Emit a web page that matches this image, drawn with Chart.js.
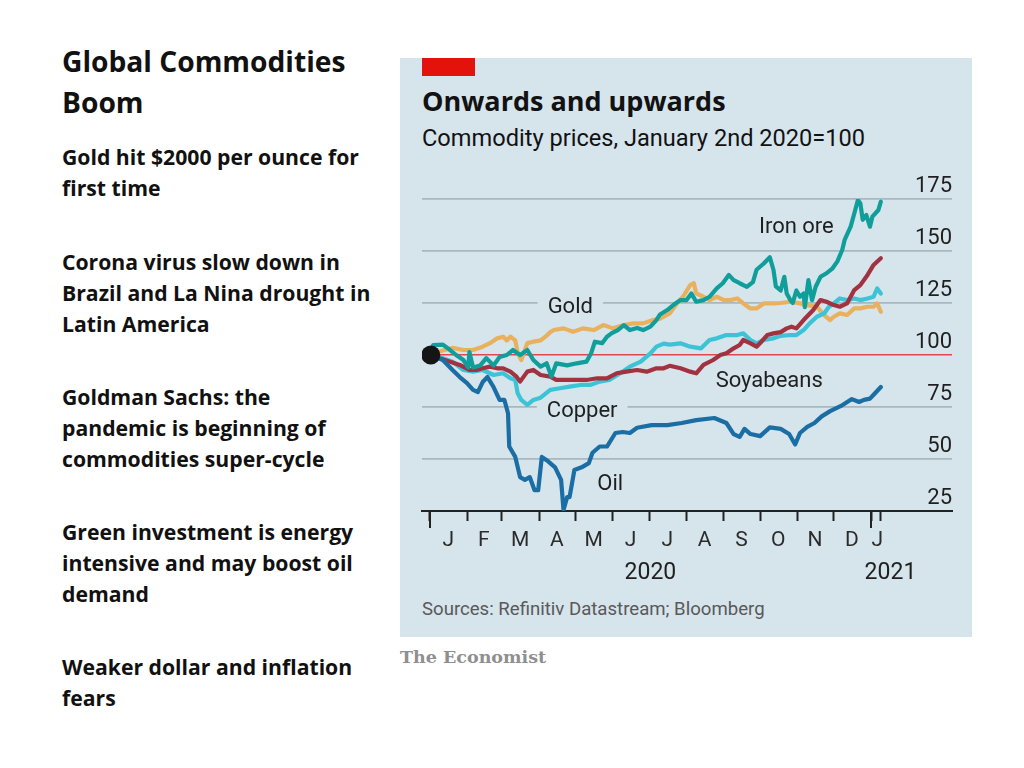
<!DOCTYPE html>
<html>
<head>
<meta charset="utf-8">
<script src="https://cdn.jsdelivr.net/npm/chart.js@4"></script>
<style>
  html, body { margin: 0; padding: 0; background: #ffffff; }
  body { width: 1024px; height: 768px; position: relative; overflow: hidden; }
  .side { position: absolute; left: 62px; font-family: "Open Sans", Lato, sans-serif; font-weight: 700; color: #111; white-space: nowrap; }
  .side h1 { margin: 0; font-size: 28.2px; line-height: 41px; font-weight: 700; }
  .side p { margin: 0; font-size: 21.2px; line-height: 31px; }
  #panel { position: absolute; left: 400px; top: 58px; width: 572px; height: 579px; background: #d6e4ec; }
  #redbar { position: absolute; left: 22px; top: 0; width: 53px; height: 18px; background: #e3120b; }
  .ptitle { position: absolute; left: 22px; margin: 0; font-family: "Open Sans", Roboto, sans-serif; font-weight: 700; font-size: 27px; line-height: 34px; color: #121212; white-space: nowrap; }
  .psub { position: absolute; left: 22px; margin: 0; font-family: Roboto, sans-serif; font-weight: 400; font-size: 23.6px; line-height: 28px; color: #121212; white-space: nowrap; }
  .psrc { position: absolute; left: 22px; top: 539px; font-family: Roboto, sans-serif; font-size: 18.6px; line-height: 24px; color: #595959; white-space: nowrap; }
  #chartbox { position: absolute; left: 400px; top: 160px; width: 572px; height: 440px; }
  #econ { position: absolute; left: 400px; top: 645px; font-family: "DejaVu Serif", "Liberation Serif", serif; font-weight: 700; font-size: 17.5px; line-height: 24px; color: #8f8f8f; white-space: nowrap; }
</style>
</head>
<body>
<div class="side" style="top:41px"><h1>Global Commodities<br>Boom</h1></div>
<div class="side" style="top:141px"><p>Gold hit $2000 per ounce for<br>first time</p></div>
<div class="side" style="top:246px"><p>Corona virus slow down in<br>Brazil and La Nina drought in<br>Latin America</p></div>
<div class="side" style="top:381px"><p>Goldman Sachs: the<br>pandemic is beginning of<br>commodities super-cycle</p></div>
<div class="side" style="top:516px"><p>Green investment is energy<br>intensive and may boost oil<br>demand</p></div>
<div class="side" style="top:651px"><p>Weaker dollar and inflation<br>fears</p></div>

<div id="panel">
  <div id="redbar"></div>
  <div class="ptitle" style="top:26px">Onwards and upwards</div>
  <div class="psub" style="top:66px">Commodity prices, January 2nd 2020=100</div>
  <div class="psrc">Sources: Refinitiv Datastream; Bloomberg</div>
</div>
<div id="chartbox"><canvas id="c" width="572" height="440"></canvas></div>
<div id="econ">The Economist</div>

<script>
// ---- Data (x = days since 1 Jan 2020) ----
const oilDays = [1,11,19,25,31,36,40,44,48,53,58,62,65,66,71,75,79,83,87,90,93,98,104,109,111,114,116,120,126,132,135,141,147,154,160,166,172,184,197,209,221,236,243,246,252,257,261,266,274,282,291,298,303,307,313,319,325,332,341,350,356,360,365,369,374];
const oilVals = [100,97.6,92.8,89.4,86.5,83.2,82.2,87,89.4,84.6,78.4,78.4,72,56,51,41.3,40,41.3,35,35,51,49,46,40,25.5,31.7,31.7,44.7,46,48,53,56,56,62.5,63,62.5,65,66.3,66.3,67.3,68.7,69.7,68,67.3,62,60.6,64.5,62,61,65.2,64.5,62,57,62.5,65.4,67.3,70.5,73,75.5,78.8,77.4,78.4,79,81.5,84.6];

const ironDays = [1,3,11,17,22,28,32,33,36,42,47,53,58,64,69,75,81,86,92,97,101,105,114,122,130,134,137,143,147,151,156,161,166,172,177,183,188,191,197,202,208,213,217,221,227,232,238,243,248,252,257,263,268,271,277,282,285,287,291,294,296,299,301,304,307,310,311,314,317,320,324,329,334,338,342,344,349,352,355,357,359,362,365,367,372,374];
const ironVals = [100,104.8,105,102.4,100,97.6,94,101.4,94,95,98.5,95,99,100,102.4,100,102.4,97.6,94.4,96,89.6,96,95,96,96.8,101,106.4,105.7,108.8,110.5,112,114.4,112,113,112,113.6,116.8,119.5,121.6,124,126.4,126.4,129.6,125.6,126.4,128,132,134.5,138.5,136,134.5,132.8,135,141,144,147,141,133,131,137.6,129.6,126.4,125,131,128,129.6,123,136,126.4,132.8,137.6,139.3,141.7,145,150.5,155.3,161.7,168,174.5,173,165,167.3,161.7,166.5,169.7,173.7];

const goldDays = [1,10,19,28,36,44,50,56,61,64,67,71,73,76,81,86,92,96,100,103,111,119,127,136,144,152,161,169,177,185,191,199,205,210,216,219,221,227,232,238,244,249,255,260,266,271,277,285,291,299,307,313,321,327,332,335,340,346,352,357,363,368,371,374];
const goldVals = [100,102,103.4,102.4,102.4,104,105.7,108,108.8,107,108.8,107,101,97.6,105.7,106.4,107,108.8,111,112,112.8,111.2,112.8,112,114.4,112.8,114.4,115.2,115.2,116.8,117.5,120,124.8,128,133.6,134.5,129.6,128,126.4,128,126.4,126.4,127.2,124.8,122.4,122.4,124.8,124.8,125,125.6,124.8,124,123.2,119.2,116.8,118.4,120,119.2,122.4,122.4,123.2,123.2,124.8,120.8];

const copperDays = [1,8,19,28,36,44,53,61,67,71,73,76,81,86,92,100,108,116,125,133,141,149,158,166,175,183,188,194,199,208,216,225,232,238,246,255,260,266,271,277,285,291,299,304,310,315,321,327,331,335,340,346,352,357,363,368,371,374];
const copperVals = [100,99,96.8,92.8,92,92.8,90.4,91.2,88.8,88,81.6,78.4,76,78.4,79.5,83.2,84,84.8,85.6,85.6,87.2,88,91.2,94.4,96.8,100.8,104,105.5,105,105.6,104,103.2,107.2,108,109.6,109.6,110.4,107.2,105.6,107.2,108,109.2,109.6,109.6,112,115.2,118.4,120,123.2,124.8,127.2,126.4,127.2,126.4,127.2,128,132,129.6];

const soyDays = [1,8,17,25,33,39,44,50,56,61,67,72,75,81,86,92,100,105,114,122,130,139,147,155,163,172,180,188,194,199,208,216,221,227,235,241,246,252,257,260,266,271,275,280,285,291,296,300,304,310,318,324,329,335,340,346,352,357,363,368,374];
const soyVals = [100,98.4,96.8,95.2,92.8,92.8,93.6,94.4,93.6,93.6,92,89.6,87.2,92,92.8,90.4,89.6,88,88,88,88,88.8,88.8,91.2,92,92.8,92,93.6,93.6,94.8,93.6,92,91.2,95.2,97.6,100,100.8,103.2,104.8,107.2,105.6,104,106.4,109.6,110.4,111,112.8,113.6,112.8,116.8,121.6,126.4,125.6,124,123.2,124.8,131.2,133.6,138.5,143.3,146.5];

const startDay = [1];
const startVal = [100];

const yTicks = [25, 50, 75, 100, 125, 150, 175];
const monthStarts = [0,31,60,91,121,152,182,213,244,274,305,335,366,374];
const yearStarts = [0, 366];
const monthMids = [15.5,45,75,105.5,136,166.5,197,228,258.5,289,319.5,350,371];
const monthLabels = ['J','F','M','A','M','J','J','A','S','O','N','D','J'];
const yearPos = [183, 382];
const yearLabels = ['2020', '2021'];

// series labels: [name, day, value, knockout]
const seriesLabels = [
  ['Iron ore', 304, 161.5, false],
  ['Gold', 116.6, 122.8, true],
  ['Soyabeans', 281.5, 87.2, false],
  ['Copper', 126.5, 72.8, true],
  ['Oil', 149.7, 37.8, false]
];

const PANEL_BG = '#d6e4ec';
const GRID = '#a9b7c0';

function pts(d, v) { return d.map((x, i) => ({ x: x, y: v[i] })); }
function lineDs(label, d, v, color) {
  return { label, data: pts(d, v), borderColor: color, borderWidth: 4.2, pointRadius: 0,
           tension: 0, fill: false, borderJoinStyle: 'round', borderCapStyle: 'round' };
}

const annotPlugin = {
  id: 'annot',
  beforeDatasetsDraw(chart) {
    const ctx = chart.ctx, xs = chart.scales.x, ys = chart.scales.y;
    ctx.save();
    ctx.font = '400 22px Roboto, sans-serif';
    ctx.textAlign = 'center';
    ctx.textBaseline = 'middle';
    seriesLabels.forEach(([t, d, v, ko]) => {
      const px = xs.getPixelForValue(d), py = ys.getPixelForValue(v);
      const w = ctx.measureText(t).width;
      if (ko) { ctx.fillStyle = PANEL_BG; ctx.fillRect(px - w / 2 - 10, py - 14, w + 20, 28); }
      ctx.fillStyle = '#1f1f1f';
      ctx.fillText(t, px, py);
    });
    ctx.restore();
  },
  afterDraw(chart) {
    const ctx = chart.ctx, xs = chart.scales.x, b = chart.chartArea.bottom;
    ctx.save();
    ctx.strokeStyle = '#222';
    ctx.lineWidth = 2;
    yearStarts.forEach(d => {
      const px = Math.round(xs.getPixelForValue(d));
      ctx.beginPath(); ctx.moveTo(px, b); ctx.lineTo(px, b + 17); ctx.stroke();
    });
    ctx.restore();
  }
};

new Chart(document.getElementById('c'), {
  type: 'line',
  data: {
    datasets: [
      { label: 'start', data: pts(startDay, startVal), showLine: false, pointRadius: 9.5,
        pointBackgroundColor: '#151515', pointBorderWidth: 0, borderColor: '#151515' },
      lineDs('Oil', oilDays, oilVals, '#1a6ea3'),
      lineDs('Iron ore', ironDays, ironVals, '#109e9a'),
      lineDs('Soyabeans', soyDays, soyVals, '#a2323f'),
      lineDs('Copper', copperDays, copperVals, '#3cc4d6'),
      lineDs('Gold', goldDays, goldVals, '#e9b15e')
    ]
  },
  options: {
    responsive: false,
    animation: false,
    events: [],
    layout: { padding: { left: 22, right: 20, top: 39, bottom: 12 } },
    plugins: { legend: { display: false }, tooltip: { enabled: false } },
    scales: {
      x: {
        type: 'linear', position: 'bottom', min: -6.3, max: 433, bounds: 'data', weight: 0,
        afterBuildTicks: s => { s.ticks = monthStarts.map(v => ({ value: v })); },
        afterFit: s => { s.height = 10; },
        ticks: { display: false },
        grid: { drawOnChartArea: false, drawTicks: true, tickLength: 10, tickColor: '#222', tickWidth: 2 },
        border: { display: true, color: '#222', width: 2 }
      },
      xm: {
        type: 'linear', position: 'bottom', min: -6.3, max: 433, bounds: 'data', weight: 1,
        afterBuildTicks: s => { s.ticks = monthMids.map(v => ({ value: v })); },
        afterFit: s => { s.height = 33; },
        ticks: { autoSkip: false, maxRotation: 0, padding: 7, color: '#2b2b2b',
                 font: { family: 'Roboto, sans-serif', size: 21 },
                 callback: (v, i) => monthLabels[i] },
        grid: { display: false, drawTicks: false },
        border: { display: false }
      },
      xy: {
        type: 'linear', position: 'bottom', min: -6.3, max: 433, bounds: 'data', weight: 2,
        afterBuildTicks: s => { s.ticks = yearPos.map(v => ({ value: v })); },
        afterFit: s => { s.height = 34; },
        ticks: { autoSkip: false, maxRotation: 0, padding: 5, color: '#1f1f1f',
                 font: { family: 'Roboto, sans-serif', size: 23 },
                 callback: (v, i) => yearLabels[i] },
        grid: { display: false, drawTicks: false },
        border: { display: false }
      },
      y: {
        type: 'linear', position: 'right', min: 25, max: 175, bounds: 'data',
        afterBuildTicks: s => { s.ticks = yTicks.map(v => ({ value: v })); },
        afterFit: s => { s.width = 0; },
        ticks: { mirror: true, padding: 0, labelOffset: -13, color: '#1f1f1f',
                 font: { family: 'Roboto, sans-serif', size: 22 } },
        grid: {
          drawTicks: false,
          color: c => c.tick && c.tick.value === 100 ? '#e0474a' : (c.tick && c.tick.value === 25 ? 'rgba(0,0,0,0)' : GRID),
          lineWidth: c => c.tick && c.tick.value === 100 ? 1.6 : 1.8
        },
        border: { display: false }
      }
    }
  },
  plugins: [annotPlugin]
});
</script>
</body>
</html>
